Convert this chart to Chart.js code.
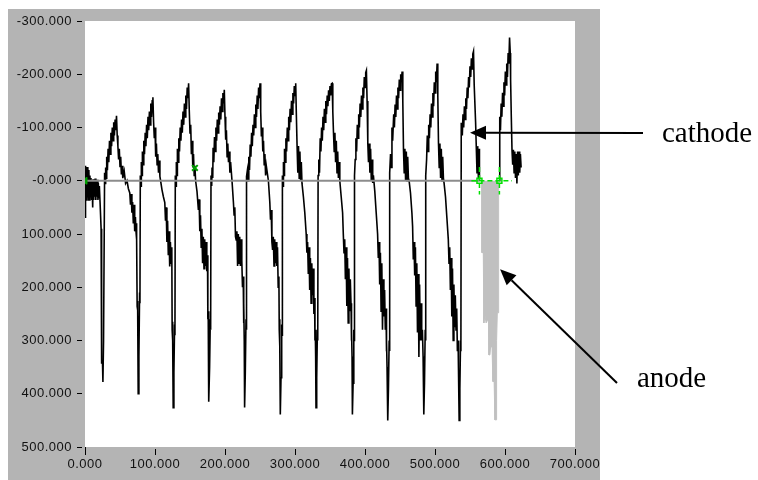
<!DOCTYPE html>
<html>
<head>
<meta charset="utf-8">
<script src="https://cdn.jsdelivr.net/npm/chart.js@4.4.1/dist/chart.umd.min.js"></script>
<style>
  html, body { margin: 0; padding: 0; background: #fff; }
  #wrap { width: 758px; height: 480px; position: relative; }
</style>
</head>
<body>
<div id="wrap"><canvas id="myChart" width="758" height="480"></canvas></div>
<script>
// axis ticks
const xTickValues = [0, 100, 200, 300, 400, 500, 600, 700];
const xTickLabels = ['0.000', '100.000', '200.000', '300.000', '400.000', '500.000', '600.000', '700.000'];
const yTickValues = [-300, -200, -100, 0, 100, 200, 300, 400, 500];
const yTickLabels = ['-300.000', '-200.000', '-100.000', '-0.000', '100.000', '200.000', '300.000', '400.000', '500.000'];

// cathode trace [x, y]
const cathode = [
  [0,-28],[0.5,70],[1,-28],[2,36],[2.5,-26],[3.5,30],[4,-26],[5,36],[5.5,-20],[6.5,36],[7,-10],[8,30],[8.5,-5],[9.5,36],[10,0],[11,50],[11.5,-3],[12.5,36],[13,0],[14,30],[14.5,-4],[15.5,36],[16,2],[17,30],[17.5,-2],[18.5,36],[19,5],[20,32],[20.5,10],[21.5,40],
  [23,90],[23.6,210],[23.9,342],[25,342],[25.6,378],[26.5,300],[28,-15],
  [29,5],[29.5,-25],[30.5,-5],[31,-45],[32,-20],[33,-60],[34,-35],[35,-75],[36,-50],[37,-90],[38,-65],[39,-100],[40,-75],[41,-110],[42,-85],[43,-115],[44,-95],[45,-122],[46,-85],
  [47,-65],[48,-40],[49,-60],[50,-27],[51,-45],[52,-12],[53,-28],[54,-5],[56,-18],[58,5],[60,0],[62,15],[64,23],[65,45],[66,25],[67,60],[68,40],[69,80],[70,45],[71,95],[72,68],[73,98],[73.5,80],
  [74,110],[74.5,236],[75,226],[75.5,243],[76,400],[77,330],[78,210],[78.5,230],[79,-10],
  [80,10],[80.5,-35],[81.5,-10],[82,-55],[83,-30],[84,-75],[85,-50],[86,-90],[87,-65],[88,-105],[89,-80],[90,-120],[91,-95],[92,-130],[93,-105],[94,-145],[95,-120],[96,-150],[97,-157],[98,-110],
  [99,-80],[100,-100],[101,-45],[102,-70],[103,-30],[104,-50],[105,-15],[106,-38],[107,-8],[108,0],[110,17],[112,30],[114,41],[115,75],[116,50],[117,115],[118,75],[119,140],[120,95],[121,161],[122,115],[123,155],[124,125],
  [124.5,280],[125,265],[125.5,300],[126,426],[127,360],[128,270],[128.5,290],[129,-10],
  [130,10],[130.5,-35],[131.5,-10],[132,-60],[133,-35],[134,-80],[135,-55],[136,-100],[137,-75],[138,-115],[139,-90],[140,-130],[141,-105],[142,-145],[143,-120],[144,-160],[145,-135],[146,-175],[147,-155],[148,-183],[149,-130],
  [150,-90],[151,-105],[152,-50],[153,-75],[154,-25],[155,-50],[156,-10],[157,-28],[158,0],[160,20],[162,55],[163,35],[164,95],[165,65],[166,125],[167,90],[168,155],[169,105],[170,165],[171,110],[172,160],[173,115],[174,170],[175,140],
  [175.5,260],[176,245],[176.5,280],[177,415],[178,350],[179,260],[179.5,280],[180,-10],
  [181,10],[181.5,-25],[182.5,-5],[183,-62],[184,-35],[185,-82],[186,-55],[187,-100],[188,-75],[189,-115],[190,-90],[191,-128],[192,-105],[193,-140],[194,-115],[195,-155],[196,-130],[197,-165],[198,-145],[199,-171],[200,-120],
  [201,-77],[202,-95],[203,-45],[204,-70],[205,-35],[206,-55],[207,-15],[208,-35],[210,0],[212,40],[213,64],[214,50],[215,105],[216,111],[217,95],[218,160],[219,100],[220,155],[221,105],[222,160],[223,110],[224,150],[225,200],[226,180],
  [226.5,267],[227,230],[227.5,300],[228,426],[229,360],[230,260],[230.5,280],[231,-8],
  [232,-20],[233,0],[234,-45],[235,-20],[236,-68],[237,-45],[238,-90],[239,-65],[240,-105],[241,-85],[242,-125],[243,-100],[244,-143],[245,-120],[246,-160],[247,-135],[248,-175],[249,-155],[250,-183],[251,-130],
  [252,-83],[253,-100],[254,-55],[255,-75],[256,-30],[257,-50],[258,-10],[259,-28],[262,0],[264,40],[265,73],[266,55],[267,115],[268,130],[269,105],[270,160],[271,110],[272,155],[273,115],[274,160],[275,125],[276,200],[277,180],
  [277.5,280],[278,260],[278.5,310],[279,439],[280,370],[281,270],[281.5,290],[282,-10],
  [283,10],[283.5,-35],[284.5,-10],[285,-60],[286,-35],[287,-80],[288,-55],[289,-100],[290,-75],[291,-120],[292,-95],[293,-135],[294,-110],[295,-150],[296,-125],[297,-165],[298,-145],[299,-178],[300,-160],[301,-183],[302,-120],
  [303,-64],[304,-15],[305,-65],[306,-5],[307,-55],[308,0],[309,-35],[310,5],[312,30],[314,60],[316,100],[317,135],[318,115],[319,175],[320,125],[321,205],[322,145],[323,230],[324,155],[325,215],[326,165],[327,250],[328,220],
  [328.5,300],[329,280],[329.5,330],[330,426],[331,370],[332,280],[332.5,300],[333,-10],
  [334,-40],[335,-15],[336,-80],[337,-55],[338,-100],[339,-75],[340,-120],[341,-95],[342,-135],[343,-110],[344,-150],[345,-125],[346,-160],[347,-140],[348,-170],[349,-150],[350,-178],[351,-160],[352,-182],[353,-183],[354,-130],
  [355,-90],[356,-55],[357,-90],[358,-35],[359,-75],[360,-15],[361,-55],[362,-5],[363,-35],[364,0],[366,30],[368,60],[369,100],[370,135],[371,110],[372,185],[373,125],[374,235],[375,145],[376,267],[377,165],[378,245],[379,185],[380,230],
  [380.5,300],[381,280],[381.5,330],[382,439],[383,380],[384,280],[384.5,300],[385,-10],
  [386,-40],[387,-80],[388,-55],[389,-105],[390,-80],[391,-125],[392,-100],[393,-145],[394,-120],[395,-160],[396,-135],[397,-175],[398,-155],[399,-195],[400,-175],[401,-203],[402,-207],[403,-150],
  [404,-71],[405,-35],[406,-70],[407,-15],[408,-60],[409,0],[410,-40],[411,4],[412,-10],[414,20],[416,60],[418,100],[419,145],[420,115],[421,195],[422,135],[423,245],[424,155],[425,280],[426,185],[427,255],[428,205],[429,280],[430,240],
  [430.5,320],[431,300],[431.5,350],[432.5,450],[433.5,390],[434.5,300],[435,320],[435.5,-15],
  [436.5,-50],[437.5,-25],[438.5,-100],[439.5,-75],[441,-125],[442,-100],[443,-143],[444,-120],[445,-160],[446,-135],[447,-175],[448,-155],[449,-190],[450,-170],[451,-200],[452,-185],[453,-205],[454,-150],
  [455,-58],[456,-15],[457,-60],[458,0],[459,-55],[460,0],[461,-45],[462,-5],[463,0],[465,23],[467,60],[468,86],[469,148],[470,115],[471,178],[472,125],[473,235],[474,155],[475,285],[476,175],[477,331],[478,195],[479,300],[480,230],
  [481,300],[482,280],[483,330],[484,439],[485,380],[486,280],[486.5,300],[487,-10],
  [488,-40],[489,-85],[490,-55],[491,-105],[492,-80],[493,-125],[494,-100],[495,-145],[496,-120],[497,-165],[498,-140],[499,-185],[500,-165],[501,-205],[502,-185],[503,-220],[504,-160],
  [505,-70],[506,-25],[507,-70],[508,-5],[509,-60],[510,0],[511,-45],[512,-5],[513,5],[515,30],[517,70],[519,110],[520,155],[521,125],[522,205],[523,145],[524,255],[525,165],[526,300],[527,195],[528,275],[529,215],[530,280],[531,240],
  [532,320],[533,300],[533.5,350],[534.5,450],[535.5,390],[536.5,300],[537,320],[537.5,-109],
  [538,-109],[539,-85],[540,-125],[541,-100],[542,-140],[543,-115],[544,-155],[545,-135],[546,-175],[547,-155],[548,-195],[549,-175],[550,-215],[551,-195],[552,-230],[553,-210],[554,-238],[555,-243],[556,-180],
  [558,-110],[559,-62],[560,-15],[561,-65],[562,-5],[563,-60],[563.5,0],
  [578,null],
  [592,0],[592.5,-120],[593.5,-95],[594.5,-145],[595.5,-120],[596.5,-165],[597.5,-140],[598.5,-185],[599.5,-160],[600.5,-205],[601.5,-180],[602.5,-220],[603.5,-195],[604.5,-240],[605.5,-220],[606.5,-269],[607.5,-240],[608,-190],
  [609,-120],[610,-58],[611,-30],[612,-58],[613,-15],[614,-55],[615,-5],[616,-50],[617,5],[618,-55],[619,-10],[620,-55],[621,-15],[622,-50],[623,-25]
];

// anode trace (grey burst)
const anode = [
  [567,0],[567,135],[569,135],[569.8,267],[571,250],[573,267],[575,260],[576.5,267],[577,327],[578.5,327],[579.4,312],[581.5,312],[582.7,377],[584.5,377],[585.6,449],[587.5,449],[588,300],[589,248],[590,248],[590.8,167],[591,0]
];

const zeroLine = [[0,0],[563.5,0]];
const cursorLines = [[552,0],[610,0],[578,null],[563.5,-26],[563.5,26],[578,null],[592,-26],[592,26]];
const markers = [[0,0],[157,-24],[563.5,0],[592,0]];

const panelColor = '#b4b4b4';
const toXY = pts => pts.map(p => ({ x: p[0], y: p[1] }));

const framePlugin = {
  id: 'frame',
  beforeDraw(chart) {
    const ctx = chart.ctx, a = chart.chartArea;
    ctx.save();
    ctx.fillStyle = '#ffffff';
    ctx.fillRect(0, 0, chart.width, chart.height);
    ctx.fillStyle = panelColor;
    ctx.fillRect(8, 9, 592, 471);
    ctx.fillStyle = '#ffffff';
    ctx.fillRect(a.left, a.top, a.right - a.left, a.bottom - a.top);
    ctx.restore();
    ctx.letterSpacing = '0.5px';
  },
  afterDraw(chart) {
    const ctx = chart.ctx, a = chart.chartArea;
    const xs = chart.scales.x, ys = chart.scales.y;
    ctx.save();
    ctx.letterSpacing = '0px';
    // small gap between tick marks and the plot
    ctx.fillStyle = panelColor;
    ctx.fillRect(a.left - 3, a.top - 6, 3, a.bottom - a.top + 12);
    ctx.fillRect(a.left + 1, a.bottom, a.right - a.left + 6, 2);

    function arrow(x1, y1, x2, y2) {
      const ang = Math.atan2(y2 - y1, x2 - x1);
      const len = 16, hw = 7;
      const bx = x2 - Math.cos(ang) * len, by = y2 - Math.sin(ang) * len;
      ctx.strokeStyle = '#000';
      ctx.lineWidth = 2;
      ctx.beginPath();
      ctx.moveTo(x1, y1);
      ctx.lineTo(bx, by);
      ctx.stroke();
      ctx.fillStyle = '#000';
      ctx.beginPath();
      ctx.moveTo(x2, y2);
      ctx.lineTo(bx - Math.sin(ang) * hw, by + Math.cos(ang) * hw);
      ctx.lineTo(bx + Math.sin(ang) * hw, by - Math.cos(ang) * hw);
      ctx.closePath();
      ctx.fill();
    }
    arrow(643, 133, xs.getPixelForValue(550), ys.getPixelForValue(-90));
    arrow(617, 383, xs.getPixelForValue(593), ys.getPixelForValue(166));

    ctx.fillStyle = '#000';
    ctx.font = '29px "Liberation Serif", "Times New Roman", serif';
    ctx.textAlign = 'left';
    ctx.textBaseline = 'alphabetic';
    ctx.fillText('cathode', 662, 142);
    ctx.fillText('anode', 637, 387);
    ctx.restore();
  }
};

const ctx = document.getElementById('myChart');

new Chart(ctx, {
  type: 'line',
  data: {
    datasets: [
      {
        data: toXY(anode), borderColor: '#c0c0c0', backgroundColor: '#c0c0c0',
        borderWidth: 1, fill: 'origin', pointRadius: 0, order: 5
      },
      {
        data: toXY(cathode), borderColor: '#000000', borderWidth: 1.6,
        pointRadius: 0, fill: false, spanGaps: false, order: 4
      },
      {
        data: toXY(zeroLine), borderColor: '#8c8c8c', borderWidth: 2,
        pointRadius: 0, fill: false, order: 3
      },
      {
        data: toXY(cursorLines), borderColor: '#00e000', borderWidth: 1.5,
        borderDash: [5, 3], pointRadius: 0, fill: false, spanGaps: false, order: 2
      },
      {
        data: toXY(markers), showLine: false, order: 1,
        pointStyle: ['triangle', 'crossRot', 'rect', 'rect'],
        rotation: [-90, 0, 0, 0],
        pointRadius: [4, 4, 3.5, 3.5],
        pointBorderWidth: [1, 2, 1.5, 1.5],
        pointBorderColor: ['#00a000', '#00a000', '#00e000', '#00e000'],
        pointBackgroundColor: ['#00a000', 'rgba(0,0,0,0)', 'rgba(0,0,0,0)', 'rgba(0,0,0,0)']
      }
    ]
  },
  options: {
    responsive: false,
    devicePixelRatio: 1,
    animation: false,
    layout: { padding: { left: 0, top: 21, right: 183, bottom: 0 } },
    elements: { line: { tension: 0 } },
    plugins: { legend: { display: false }, tooltip: { enabled: false } },
    scales: {
      x: {
        type: 'linear', min: 0, max: 700,
        afterFit: s => { s.height = 33; },
        afterBuildTicks: s => { s.ticks = xTickValues.map(v => ({ value: v })); },
        border: { display: false },
        grid: { drawOnChartArea: false, drawTicks: true, tickLength: 8, tickColor: '#000', tickWidth: 1 },
        ticks: {
          autoSkip: false, maxRotation: 0, padding: 2, color: '#111',
          font: { family: '"Liberation Sans", Arial, sans-serif', size: 13 },
          callback: v => xTickLabels[xTickValues.indexOf(v)]
        }
      },
      y: {
        type: 'linear', min: -300, max: 500, reverse: true,
        afterFit: s => { s.width = 85; },
        afterBuildTicks: s => { s.ticks = yTickValues.map(v => ({ value: v })); },
        border: { display: false },
        grid: { drawOnChartArea: false, drawTicks: true, tickLength: 8, tickColor: '#000', tickWidth: 1 },
        ticks: {
          autoSkip: false, padding: 5, color: '#111',
          font: { family: '"Liberation Sans", Arial, sans-serif', size: 13 },
          callback: v => yTickLabels[yTickValues.indexOf(v)]
        }
      }
    }
  },
  plugins: [framePlugin]
});
</script>
</body>
</html>
